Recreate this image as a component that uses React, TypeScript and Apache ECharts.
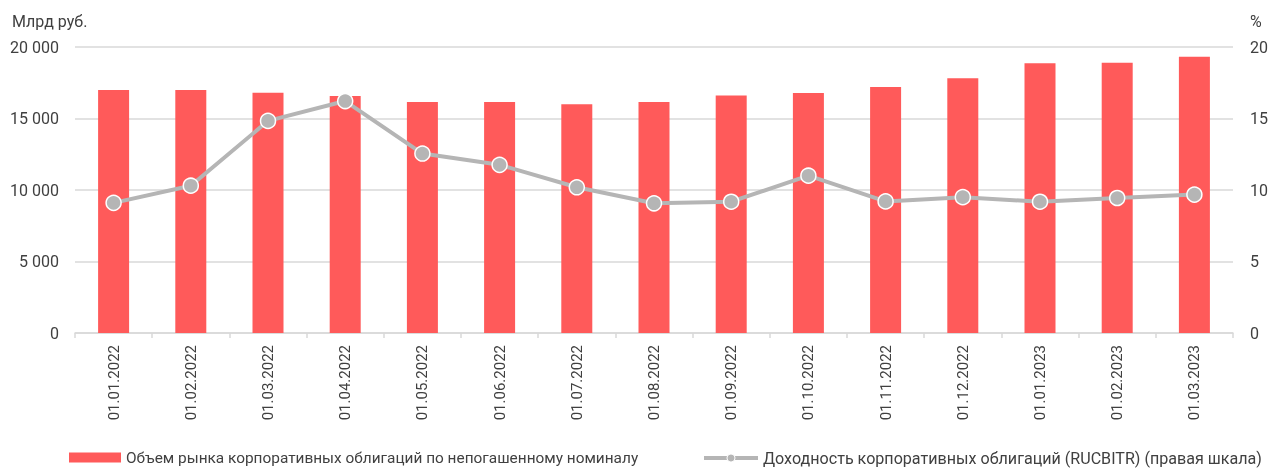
import React, { useEffect, useRef } from "react";
import * as echarts from "echarts";

const categories = [
  "01.01.2022", "01.02.2022", "01.03.2022", "01.04.2022", "01.05.2022",
  "01.06.2022", "01.07.2022", "01.08.2022", "01.09.2022", "01.10.2022",
  "01.11.2022", "01.12.2022", "01.01.2023", "01.02.2023", "01.03.2023",
];

const marketVolume = [
  17000, 17000, 16800, 16580, 16150, 16150, 15990, 16150, 16610, 16780,
  17200, 17820, 18860, 18890, 19320,
];

const yieldRUCBITR = [
  9.1, 10.3, 14.83, 16.22, 12.55, 11.76, 10.19, 9.07, 9.18, 11.0,
  9.2, 9.5, 9.18, 9.44, 9.68,
];

const leftTicks = [0, 5000, 10000, 15000, 20000];
const rightTicks = [0, 5, 10, 15, 20];

const barName = "Объем рынка корпоративных облигаций по непогашенному номиналу";
const lineName = "Доходность корпоративных облигаций (RUCBITR) (правая шкала)";
const leftUnit = "Млрд руб.";
const rightUnit = "%";

const FONT = "Roboto, 'Noto Sans', sans-serif";
const TEXT = "#404040";
const GRID = "#d9d9d9";
const BAR = "#FF5A5A";
const LINE = "#B5B5B5";

const fmt = (v: number) => String(v).replace(/\B(?=(\d{3})+(?!\d))/g, " ");

export default function App() {
  const ref = useRef<HTMLDivElement>(null);
  useEffect(() => {
    if (!ref.current) return;
    const chart = echarts.init(ref.current, undefined, { renderer: "svg" });
    chart.setOption({
      animation: false,
      textStyle: { fontFamily: FONT, color: TEXT },
      grid: { left: 75, right: 38, top: 47, bottom: 138, containLabel: false },
      legend: [
        {
          left: 69,
          top: 450,
          padding: 0,
          data: [barName],
          itemWidth: 52,
          itemHeight: 10,
          itemGap: 5,
          textStyle: { fontSize: 15.4, color: TEXT, fontFamily: FONT },
          icon: "rect",
        },
        {
          left: 702,
          top: 450,
          padding: 0,
          data: [lineName],
          itemWidth: 54,
          itemHeight: 10,
          lineStyle: { width: 4, color: LINE },
          itemStyle: { color: LINE, borderColor: "#ffffff", borderWidth: 1 },
          textStyle: { fontSize: 16.1, color: TEXT, fontFamily: FONT },
        },
      ],
      graphic: [
        {
          type: "text",
          left: 12,
          top: 13,
          style: { text: leftUnit, fontSize: 16, fill: TEXT, fontFamily: FONT },
        },
        {
          type: "text",
          left: 1250,
          top: 13,
          style: { text: rightUnit, fontSize: 16, fill: TEXT, fontFamily: FONT },
        },
      ],
      xAxis: {
        type: "category",
        data: categories,
        boundaryGap: true,
        axisLine: { show: true, lineStyle: { color: GRID, width: 1.5 } },
        axisTick: { show: true, length: 5, lineStyle: { color: GRID, width: 1.5 } },
        axisLabel: {
          rotate: 90,
          margin: 12,
          fontSize: 15,
          color: TEXT,
          fontFamily: FONT,
          interval: 0,
        },
      },
      yAxis: [
        {
          type: "value",
          min: leftTicks[0],
          max: leftTicks[leftTicks.length - 1],
          interval: leftTicks[1] - leftTicks[0],
          axisLine: { show: false },
          axisTick: { show: false },
          splitLine: { show: true, lineStyle: { color: GRID, width: 1.5 } },
          axisLabel: {
            margin: 16,
            fontSize: 16,
            color: TEXT,
            fontFamily: FONT,
            formatter: (v: number) => fmt(v),
          },
        },
        {
          type: "value",
          position: "right",
          min: rightTicks[0],
          max: rightTicks[rightTicks.length - 1],
          interval: rightTicks[1] - rightTicks[0],
          axisLine: { show: false },
          axisTick: { show: false },
          splitLine: { show: false },
          axisLabel: {
            margin: 17,
            fontSize: 16,
            color: TEXT,
            fontFamily: FONT,
          },
        },
      ],
      series: [
        {
          name: barName,
          type: "bar",
          data: marketVolume,
          barWidth: 31,
          itemStyle: { color: BAR },
          yAxisIndex: 0,
          z: 2,
        },
        {
          name: lineName,
          type: "line",
          data: yieldRUCBITR,
          yAxisIndex: 1,
          symbol: "circle",
          symbolSize: 15,
          lineStyle: { color: LINE, width: 4 },
          itemStyle: { color: LINE, borderColor: "#ffffff", borderWidth: 1.5 },
          z: 3,
        },
      ],
    });
    return () => chart.dispose();
  }, []);
  return (
    <div
      ref={ref}
      style={{ position: "fixed", left: 0, top: 0, width: 1271, height: 471 }}
    />
  );
}
